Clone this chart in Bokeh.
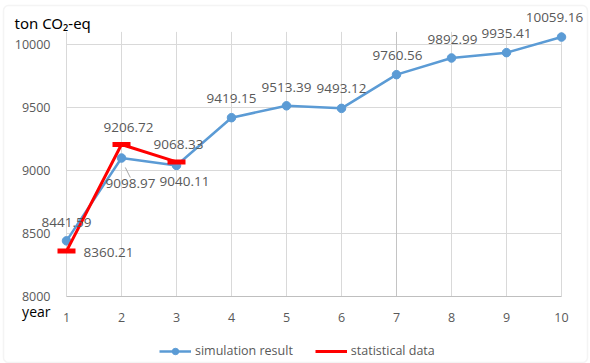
from bokeh.plotting import figure
from bokeh.models import (Range1d, FixedTicker, ColumnDataSource, Label,
                          Legend, LegendItem, BoxAnnotation)
from bokeh.embed import file_html
from bokeh.resources import INLINE

# ---- data ----
years = [1, 2, 3, 4, 5, 6, 7, 8, 9, 10]
simulation = [8441.59, 9098.97, 9040.11, 9419.15, 9513.39, 9493.12, 9760.56, 9892.99, 9935.41, 10059.16]
stat_years = [1, 2, 3]
statistical = [8360.21, 9206.72, 9068.33]
y_ticks = [8000, 8500, 9000, 9500, 10000]
y_top = 10100
sim_label_dx = [0, 9, 8, 0, 0, 0, 1, 1, 0, -7]
sim_label_dy = [18, -25, -16, 19, 18, 20, 19, 18.5, 19, 19.5]
stat_label_dx = [17, 7, 2]
stat_label_dy = [-1, 17, 17]

BLUE = "#5b9bd5"
RED = "#ff0000"
GRAY_TXT = "#595959"
GRID = "#d9d9d9"
FONT = "Open Sans"

W, H = 590, 363
# plot area in pixels: x=1 -> 66px, x=10 -> 561px ; y=8000 -> 296px, 0.126 px per unit
px_per_x = 55.0
px_per_y = 0.126
x0_px, y0_px = 66, 296
x_range = Range1d(years[0] - x0_px / px_per_x, years[0] + (W - x0_px) / px_per_x)
y_range = Range1d(y_ticks[0] - (H - y0_px) / px_per_y, y_ticks[0] + y0_px / px_per_y)

p = figure(width=W, height=H, output_backend="svg", toolbar_location=None,
           x_range=x_range, y_range=y_range,
           min_border=0, min_border_left=0, min_border_right=0,
           min_border_top=0, min_border_bottom=0)
p.title.visible = False
p.outline_line_color = None
p.background_fill_color = "white"
p.border_fill_color = "white"
p.xgrid.visible = False
p.ygrid.visible = False

# gridlines limited to the plot area
p.segment(x0=years[0], x1=years[-1], y0=y_ticks[1:], y1=y_ticks[1:], line_color=GRID, line_width=1)
p.segment(x0=years, x1=years, y0=y_ticks[0], y1=y_top,
          line_color=[GRID] * 6 + ["#c4c4c4"] + [GRID] * 3, line_width=1)

# axes fixed at the plot area edges
p.xaxis.fixed_location = y_ticks[0]
p.yaxis.fixed_location = years[0]
p.xaxis.bounds = (years[0], years[-1])
p.xaxis.ticker = FixedTicker(ticks=years)
p.yaxis.ticker = FixedTicker(ticks=y_ticks)
for ax in (p.xaxis[0], p.yaxis[0]):
    ax.major_tick_out = 0
    ax.major_tick_in = 0
    ax.minor_tick_out = 0
    ax.minor_tick_in = 0
    ax.major_label_text_font = FONT
    ax.major_label_text_font_size = "12.5px"
    ax.major_label_text_color = GRAY_TXT
    ax.major_label_standoff = 16
p.yaxis.axis_line_color = None
p.xaxis.axis_line_color = "#bfbfbf"
p.xaxis.axis_line_width = 1

sim_src = ColumnDataSource(dict(x=years, y=simulation))
stat_src = ColumnDataSource(dict(x=stat_years, y=statistical))

# leader line for the 9098.97 label
p.segment(x0=[years[1] + 0.07], y0=[simulation[1] - 75], x1=[years[1] + 0.16], y1=[simulation[1] - 155],
          line_color="#a6a6a6", line_width=1)

sim_line = p.line("x", "y", source=sim_src, line_color=BLUE, line_width=2.5)
sim_pts = p.scatter("x", "y", source=sim_src, marker="circle", size=8.5,
                    fill_color=BLUE, line_color=BLUE)
stat_line = p.line("x", "y", source=stat_src, line_color=RED, line_width=3)
stat_pts = p.scatter("x", "y", source=stat_src, marker="dash", size=18,
                     line_color=RED, line_width=5)

# data labels
for i in range(len(years)):
    p.add_layout(Label(x=years[i], y=simulation[i], text=f"{simulation[i]:.2f}",
                       x_offset=sim_label_dx[i], y_offset=sim_label_dy[i],
                       text_align="center", text_baseline="middle",
                       text_font=FONT, text_font_size="13.5px", text_color=GRAY_TXT))
for i in range(len(stat_years)):
    p.add_layout(Label(x=stat_years[i], y=statistical[i], text=f"{statistical[i]:.2f}",
                       x_offset=stat_label_dx[i], y_offset=stat_label_dy[i],
                       text_align="left" if i == 0 else "center", text_baseline="middle",
                       text_font=FONT, text_font_size="13.5px", text_color=GRAY_TXT))

# axis titles (screen units from bottom-left of canvas)
p.add_layout(Label(x=14, y=H - 22, x_units="screen", y_units="screen", text="ton CO₂-eq",
                   text_align="left", text_baseline="middle",
                   text_font="Noto Sans", text_font_size="15px", text_color="black"))
p.add_layout(Label(x=50, y=H - 311, x_units="screen", y_units="screen", text="year",
                   text_align="right", text_baseline="middle",
                   text_font=FONT, text_font_size="14px", text_color="black"))

# legend
legend = Legend(items=[LegendItem(label="simulation result", renderers=[sim_line, sim_pts]),
                       LegendItem(label="statistical data", renderers=[stat_line])],
                location=(159, 4), orientation="horizontal",
                glyph_width=32, glyph_height=16, label_height=16, label_standoff=4, spacing=22,
                padding=0, margin=0, border_line_color=None, background_fill_alpha=0,
                label_text_font=FONT, label_text_font_size="12.5px", label_text_color=GRAY_TXT)
p.add_layout(legend, "center")

# outer chart border
p.add_layout(BoxAnnotation(left=3, right=587, top=H - 5, bottom=1,
                           left_units="screen", right_units="screen",
                           top_units="screen", bottom_units="screen",
                           fill_alpha=0, line_color=GRID, line_width=1.5,
                           border_radius=5, level="overlay"))

open("out.html", "w").write(file_html(p, INLINE))
